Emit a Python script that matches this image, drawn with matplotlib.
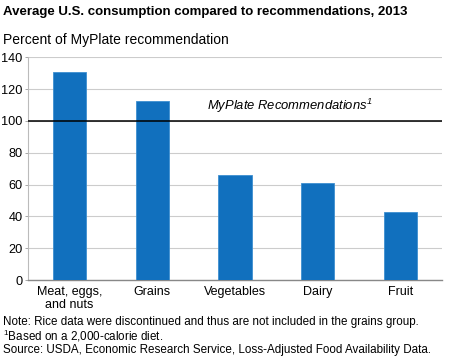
import numpy as np
import matplotlib.pyplot as plt

plt.rcParams['font.family'] = ['Liberation Sans', 'DejaVu Sans']

categories = ["Meat, eggs,\nand nuts", "Grains", "Vegetables", "Dairy", "Fruit"]
values = [130.5, 112.5, 66, 61, 42.7]
recommendation = 100
yticks = [0, 20, 40, 60, 80, 100, 120, 140]

fig = plt.figure(figsize=(4.5, 3.6), dpi=100)
ax = fig.add_axes([0.0622, 0.222, 0.92, 0.619])

x = np.arange(len(categories))
ax.bar(x, values, width=0.40, color="#1170BE", edgecolor="#3d8fd0", linewidth=0.6, zorder=3)
ax.axhline(recommendation, color="black", linewidth=1.1, zorder=4)
ax.text(1.66, recommendation + 3.5, r"MyPlate Recommendations$^{\mathregular{1}}$", style="italic",
        fontsize=9.4, ha="left", va="bottom")

ax.set_xlim(-0.5, len(categories) - 0.5)
ax.set_ylim(0, 140)
ax.set_yticks(yticks)
ax.set_xticks(x)
ax.set_xticklabels(categories, fontsize=9, linespacing=1.1)
ax.tick_params(axis="x", length=0, pad=4)
ax.tick_params(axis="y", length=2, width=0.6, color="#999999", labelsize=9.2, pad=2)
ax.grid(axis="y", color="#cccccc", linewidth=0.8, zorder=0)
for s in ["top", "right"]:
    ax.spines[s].set_visible(False)
ax.spines["left"].set_color("#bbbbbb")
ax.spines["left"].set_linewidth(0.8)
ax.spines["bottom"].set_color("#888888")
ax.spines["bottom"].set_linewidth(1.0)

fig.text(0.007, 0.968, "Average U.S. consumption compared to recommendations, 2013",
         fontsize=9.5, fontweight="bold", ha="left", va="center")
fig.text(0.007, 0.889, "Percent of MyPlate recommendation", fontsize=10, ha="left", va="center")
fig.text(0.007, 0.105, "Note: Rice data were discontinued and thus are not included in the grains group.",
         fontsize=8.4, ha="left", va="center")
fig.text(0.007, 0.066, r"$^{\mathregular{1}}$Based on a 2,000-calorie diet.", fontsize=8.4, ha="left", va="center")
fig.text(0.007, 0.027, "Source: USDA, Economic Research Service, Loss-Adjusted Food Availability Data.",
         fontsize=8.4, ha="left", va="center")

fig.savefig("out.png", dpi=100)
